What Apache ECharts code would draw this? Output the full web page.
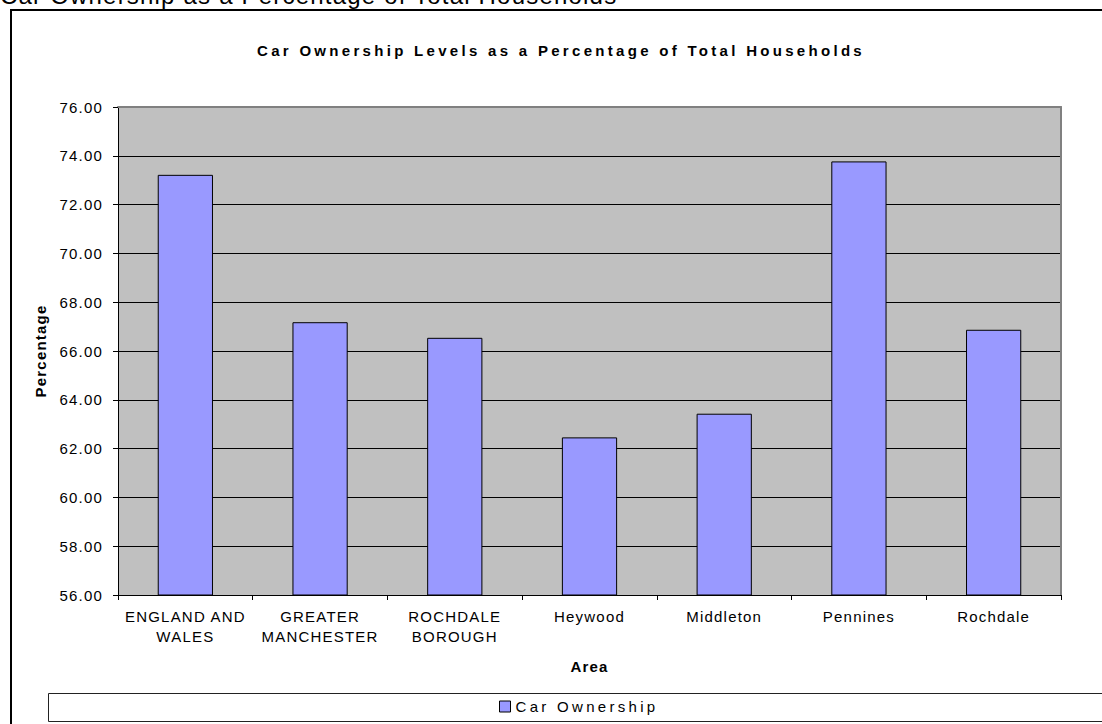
<!DOCTYPE html>
<html>
<head>
<meta charset="utf-8">
<title>Car Ownership Levels</title>
<script src="https://cdn.jsdelivr.net/npm/echarts@6/dist/echarts.min.js"></script>
<style>
  html, body { margin: 0; padding: 0; background: #ffffff; }
  #chart { width: 1102px; height: 724px; letter-spacing: 1.2px; }
</style>
</head>
<body>
<div id="chart"></div>
<script>
// ---- data ----
const pageHeading = 'Car Ownership as a Percentage of Total Households';
const chartTitle = 'Car Ownership Levels as a Percentage of Total Households';
const categories = [
  'ENGLAND AND\nWALES',
  'GREATER\nMANCHESTER',
  'ROCHDALE\nBOROUGH',
  'Heywood',
  'Middleton',
  'Pennines',
  'Rochdale'
];
const seriesName = 'Car Ownership';
const carOwnership = [73.22, 67.18, 66.54, 62.46, 63.43, 73.77, 66.87];
const yMin = 56;
const yMax = 76;
const yStep = 2;
const xAxisName = 'Area';
const yAxisName = 'Percentage';

// ---- styling ----
const FONT = '"Liberation Sans", Arial, sans-serif';
const INK = '#000000';

const el = document.getElementById('chart');
const chart = echarts.init(el, null, { renderer: 'svg' });

const option = {
  animation: false,
  textStyle: { fontFamily: FONT, color: INK },
  title: {
    text: chartTitle,
    left: 556,
    top: 38,
    textAlign: 'center',
    textStyle: { fontSize: 15, fontWeight: 'bold', color: INK, lineHeight: 15, fontFamily: FONT }
  },
  graphic: [
    // heading above the chart frame
    {
      type: 'text', x: 0, y: -4.3, silent: true,
      style: { text: pageHeading, fontSize: 24, fontFamily: FONT, fill: INK, align: 'left', verticalAlign: 'middle' }
    },
    // outer chart frame
    {
      type: 'rect', silent: true, z: -10,
      shape: { x: 11, y: 10, width: 1200, height: 800 },
      style: { fill: 'none', stroke: INK, lineWidth: 2 }
    },
    // legend frame
    {
      type: 'rect', silent: true, z: -10,
      shape: { x: 48.5, y: 693.5, width: 1100, height: 28 },
      style: { fill: '#ffffff', stroke: '#222222', lineWidth: 1 }
    }
  ],
  legend: {
    data: [seriesName],
    left: 499,
    top: 699,
    padding: 0,
    icon: 'rect',
    itemWidth: 11,
    itemHeight: 11,
    itemStyle: { borderColor: INK, borderWidth: 1 },
    textStyle: { fontSize: 15, color: INK, fontFamily: FONT }
  },
  grid: {
    left: 118, right: 41, top: 107, bottom: 129,
    show: true, backgroundColor: '#c0c0c0', borderWidth: 0
  },
  xAxis: [
    {
      type: 'category',
      data: categories,
      axisLine: { show: true, lineStyle: { color: INK, width: 1 } },
      axisTick: { show: true, length: 5, lineStyle: { color: INK } },
      axisLabel: { interval: 0, fontSize: 15, lineHeight: 20, color: INK, margin: 11 },
      name: xAxisName,
      nameLocation: 'middle',
      nameGap: 64,
      nameTextStyle: { fontSize: 15, fontWeight: 'bold', color: INK }
    },
    {
      // upper edge of the plot frame
      type: 'category',
      position: 'top',
      data: categories,
      axisLine: { show: true, lineStyle: { color: '#808080', width: 2 } },
      axisTick: { show: false },
      axisLabel: { show: false }
    }
  ],
  yAxis: [
    {
      type: 'value',
      min: yMin, max: yMax, interval: yStep,
      axisLine: { show: true, lineStyle: { color: INK, width: 1 } },
      axisTick: { show: true, length: 5, lineStyle: { color: INK } },
      axisLabel: { fontSize: 15, color: INK, margin: 15, formatter: v => v.toFixed(2) },
      splitLine: { show: true, showMinLine: false, showMaxLine: false, lineStyle: { color: INK, width: 1 } },
      name: yAxisName,
      nameLocation: 'middle',
      nameGap: 70,
      nameTextStyle: { fontSize: 15, fontWeight: 'bold', color: INK }
    },
    {
      // right edge of the plot frame
      type: 'value',
      position: 'right',
      min: yMin, max: yMax, interval: yStep,
      axisLine: { show: true, lineStyle: { color: '#808080', width: 2 } },
      axisTick: { show: false },
      axisLabel: { show: false },
      splitLine: { show: false }
    }
  ],
  series: [
    {
      name: seriesName,
      type: 'bar',
      xAxisIndex: 0,
      yAxisIndex: 0,
      data: carOwnership,
      barCategoryGap: '59%',
      itemStyle: { color: '#9999ff', borderColor: INK, borderWidth: 1 }
    }
  ]
};

chart.setOption(option);

// the chart title and legend entry are set with wider tracking
const wideTracked = new Set([chartTitle, seriesName]);
function applyTracking() {
  el.querySelectorAll('text').forEach(t => {
    if (wideTracked.has(t.textContent)) t.style.letterSpacing = '3.3px';
  });
}
chart.on('finished', applyTracking);
applyTracking();
</script>
</body>
</html>
